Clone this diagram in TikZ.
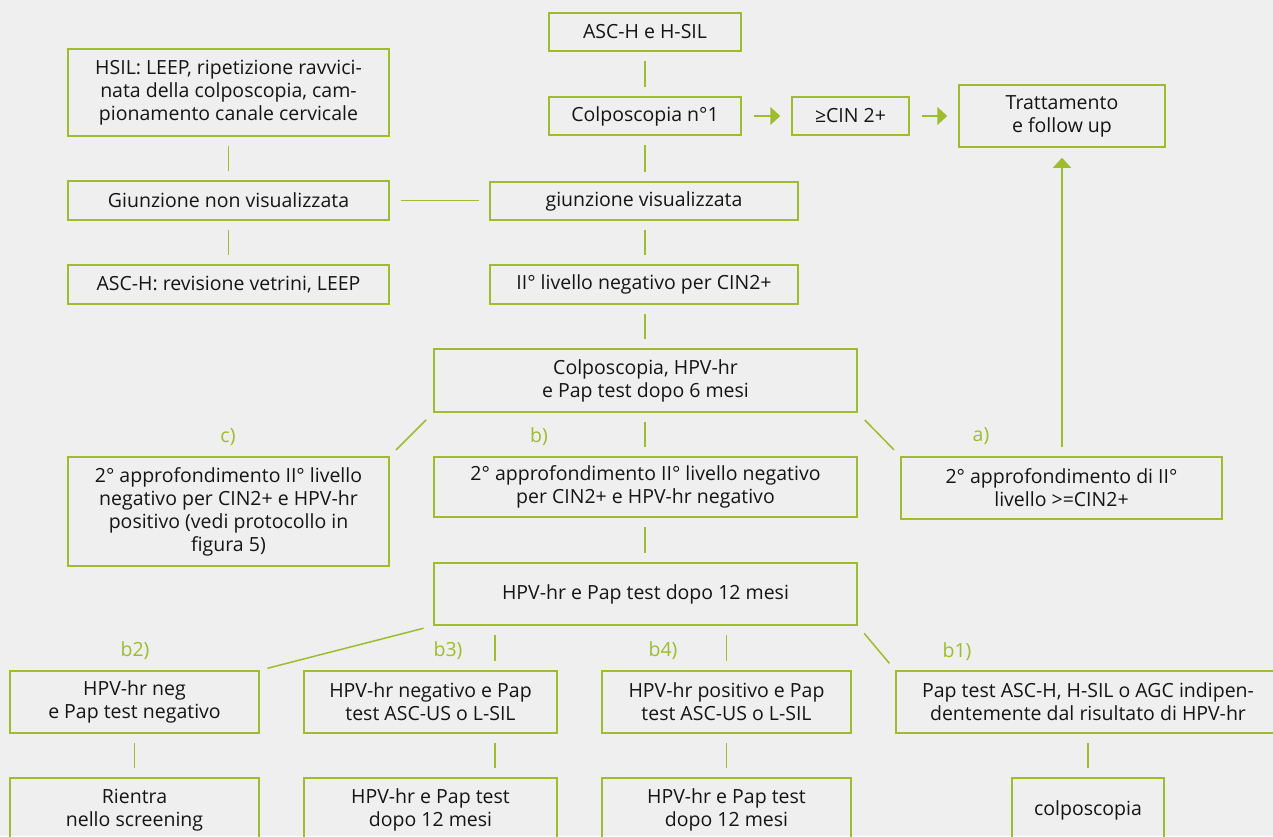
\documentclass[tikz,border=0pt]{standalone}
\usepackage{fontspec}
\setmainfont{Open Sans}
\newfontfamily\condf{Open Sans}
\usetikzlibrary{arrows.meta}
\definecolor{fgreen}{HTML}{9FBB2E}
\definecolor{bgray}{HTML}{EFEFEF}
\definecolor{tdark}{HTML}{151515}
\tikzset{
  box/.style={draw=fgreen, line width=1.5pt, align=center, inner sep=0pt, text=tdark,
    font=\fontsize{19.5}{23}\selectfont},
  cbox/.style={box, font=\condf\fontsize{19.5}{23}\selectfont},
  conn/.style={draw=fgreen, line width=1.5pt, shorten <=9pt, shorten >=9pt},
  diag/.style={draw=fgreen, line width=1.5pt, shorten <=10pt, shorten >=9pt},
  arr/.style={draw=fgreen, line width=1.5pt, -{Triangle[length=10pt,width=18pt]}, fill=fgreen},
  lab/.style={text=fgreen, inner sep=0pt, font=\fontsize{19.5}{23}\selectfont},
  clab/.style={lab, font=\condf\fontsize{19.5}{23}\selectfont}
}
\begin{document}
\begin{tikzpicture}[x=1pt,y=-1pt]
\useasboundingbox (0,0) rectangle (1273,836);
\fill[bgray] (0,0) rectangle (1273,836);
\clip (0,0) rectangle (1273,836);
% top chain
\node[box, minimum width=192, minimum height=38] (asch) at (645,32) {ASC-H e H-SIL};
\node[box, minimum width=192, minimum height=38] (colpo1) at (645,116) {Colposcopia n°1};
\node[box, minimum width=117, minimum height=38] (cin) at (850.5,116) {≥CIN 2+};
\node[box, minimum width=206, minimum height=62] (tratt) at (1062,116) {Trattamento\\e follow up};
\node[box, minimum width=321, minimum height=87] (hsil) at (228.5,92.5) {HSIL: LEEP, ripetizione ravvici-\\nata della colposcopia, cam-\\pionamento canale cervicale};
\node[box, minimum width=321, minimum height=39] (gnon) at (228.5,200.5) {Giunzione non visualizzata};
\node[box, minimum width=308, minimum height=38] (gvis) at (644,201) {giunzione visualizzata};
\node[box, minimum width=321, minimum height=39] (ascrev) at (228.5,284.5) {ASC-H: revisione vetrini, LEEP};
\node[box, minimum width=308, minimum height=39] (ii) at (644,284.5) {II° livello negativo per CIN2+};
\node[box, minimum width=423, minimum height=63] (colhpv) at (645.5,380.5) {Colposcopia, HPV-hr\\e Pap test dopo 6 mesi};
\node[box, minimum width=321, minimum height=109] (cc) at (228.5,511.5) {2° approfondimento II° livello\\negativo per CIN2+ e HPV-hr\\positivo (vedi protocollo in\\figura 5)};
\node[box, minimum width=423, minimum height=60] (bb) at (645.5,487) {2° approfondimento II° livello negativo\\per CIN2+ e HPV-hr negativo};
\node[box, minimum width=321, minimum height=62] (aa) at (1061.5,488) {2° approfondimento di II°\\livello >=CIN2+};
\node[cbox, minimum width=423, minimum height=62] (hpv12) at (645.5,594) {HPV-hr e Pap test dopo 12 mesi};
\node[cbox, minimum width=249, minimum height=62] (btwo) at (134.5,702) {HPV-hr neg\\e Pap test negativo};
\node[cbox, minimum width=253, minimum height=62] (bthree) at (430.5,702) {HPV-hr negativo e Pap\\test ASC-US o L-SIL};
\node[cbox, minimum width=249, minimum height=62] (bfour) at (726.5,702) {HPV-hr positivo e Pap\\test ASC-US o L-SIL};
\node[cbox, minimum width=384, minimum height=62] (bone) at (1088,702) {Pap test ASC-H, H-SIL o AGC indipen-\\dentemente dal risultato di HPV-hr};
\node[cbox, minimum width=249, minimum height=64] (rientra) at (134.5,810) {Rientra\\nello screening};
\node[cbox, minimum width=253, minimum height=64] (bthreer) at (430.5,810) {HPV-hr e Pap test\\dopo 12 mesi};
\node[cbox, minimum width=249, minimum height=64] (bfourr) at (726.5,810) {HPV-hr e Pap test\\dopo 12 mesi};
\node[cbox, minimum width=152, minimum height=64] (colp) at (1088,810) {colposcopia};
% labels
\node[lab] (lc) at (228,437) {c)};
\node[lab] (lb) at (539,437) {b)};
\node[lab] (la) at (981,436) {a)};
\node[clab] (lbtwo) at (135,651) {b2)};
\node[clab] (lbthree) at (448,651) {b3)};
\node[clab] (lbfour) at (663,651) {b4)};
\node[clab] (lbone) at (957,652) {b1)};
% connectors
\draw[conn] (asch) -- (colpo1);
\draw[conn] (colpo1.south) -- (gvis.north -| colpo1.south);
\draw[conn] (gvis.south -| colpo1.south) -- (ii.north -| colpo1.south);
\draw[conn] (ii.south -| colpo1.south) -- (colhpv.north -| colpo1.south);
\draw[conn] (colhpv.south -| colpo1.south) -- (bb.north -| colpo1.south);
\draw[conn] (bb.south -| colpo1.south) -- (hpv12.north -| colpo1.south);
\draw[conn] (hsil) -- (gnon);
\draw[conn] (gnon) -- (ascrev);
\draw[conn, shorten <=11pt, shorten >=10pt] (gnon.east) -- (gnon.east -| gvis.west);
\draw[diag] (colhpv.south west) -- (cc.north east);
\draw[diag] (colhpv.south east) -- (aa.north west);
\draw[diag, shorten >=8pt] (hpv12.south west) -- (btwo.north east);
\draw[diag] (hpv12.south east) -- (bone.north west);
\coordinate (xthree) at (495,0);
\draw[conn] (hpv12.south -| xthree) -- (bthree.north -| xthree);
\draw[conn] (bthree.south -| xthree) -- (bthreer.north -| xthree);
\draw[conn] (hpv12.south -| bfour.north) -- (bfour);
\draw[conn] (bfour) -- (bfourr);
\draw[conn] (btwo) -- (rientra);
\draw[conn] (bone) -- (colp);
% arrows
\draw[arr, shorten <=12pt, shorten >=11pt] (colpo1) -- (cin);
\draw[arr, shorten <=12pt, shorten >=11pt] (cin) -- (tratt);
\draw[arr, shorten <=9pt, shorten >=10pt] (aa.north -| tratt.south) -- (tratt.south);
\end{tikzpicture}
\end{document}
